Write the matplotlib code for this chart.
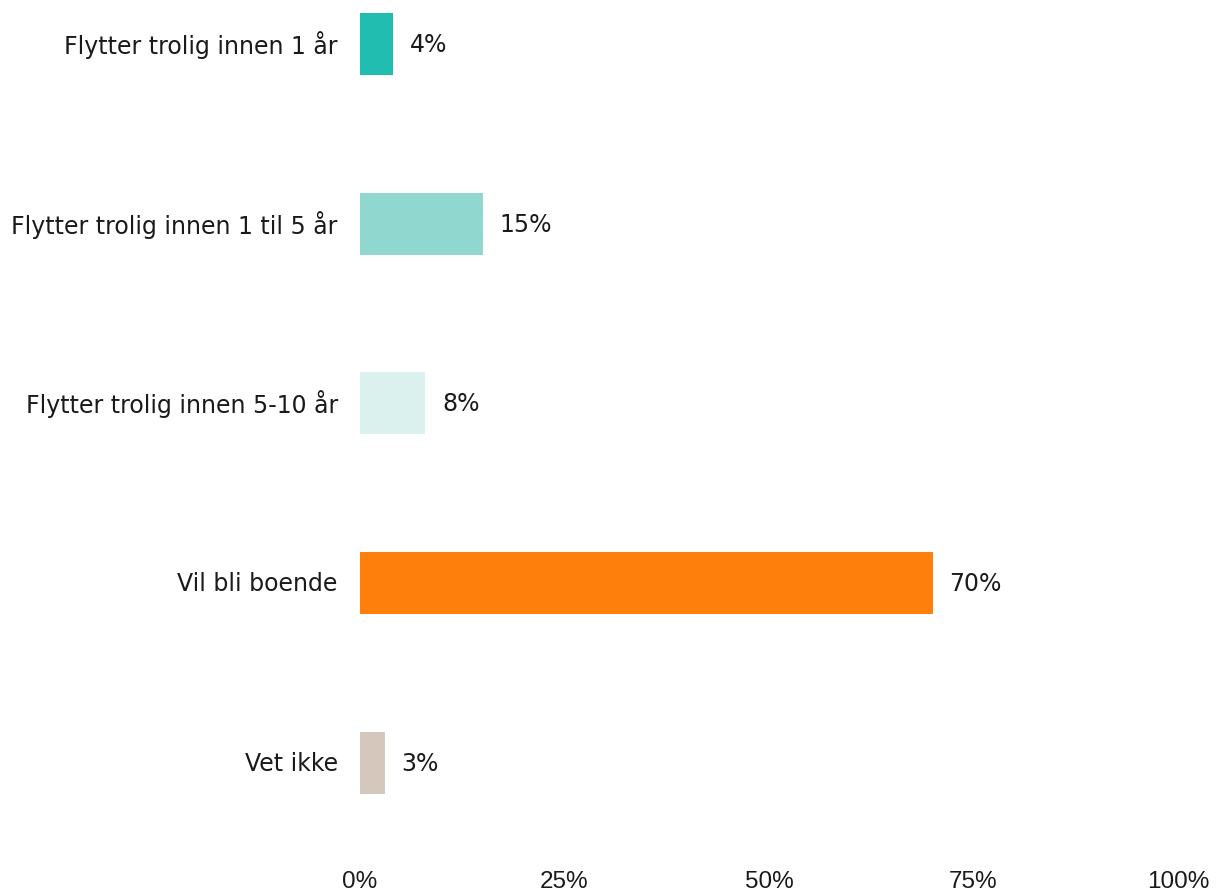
import matplotlib

matplotlib.use("Agg")
import matplotlib.pyplot as plt

categories = [
    "Flytter trolig innen 1 år",
    "Flytter trolig innen 1 til 5 år",
    "Flytter trolig innen 5-10 år",
    "Vil bli boende",
    "Vet ikke",
]
shares = [4, 15, 8, 70, 3]
colors = ["#21bdb1", "#90d8cf", "#dbf1ee", "#ff7f0d", "#d4c8bd"]
xticks = [0, 25, 50, 75, 100]

W, H, DPI = 1218, 895, 100
fig = plt.figure(figsize=(W / DPI, H / DPI), dpi=DPI)

# axes spans the plotting area in pixel terms, y in category slots
left, right, top, bottom = 360, 1178, 0, 860
ax = fig.add_axes([left / W, 1 - bottom / H, (right - left) / W, (bottom - top) / H])
slot = 179.7
first = 45
ax.set_ylim((bottom - first) / slot, (top - first) / slot)
ax.set_xlim(0, 100)

ypos = list(range(len(categories)))
ax.barh(ypos, shares, height=62 / slot, color=colors)
for y, v in zip(ypos, shares):
    ax.annotate(f"{v}%", (v, y), xytext=(12, 0), textcoords="offset points",
                va="center", ha="left", fontsize=17, family="DejaVu Sans",
                color="#1a1a1a")

ax.set_yticks(ypos)
ax.set_yticklabels(categories, fontsize=17, family="DejaVu Sans", color="#1a1a1a",
                   va="center")
ax.set_xticks(xticks)
ax.set_xticklabels([f"{t}%" for t in xticks], fontsize=17.5,
                   family="Liberation Sans", color="#1a1a1a")
ax.tick_params(axis="y", length=0, pad=16)
ax.tick_params(axis="x", length=0, pad=8)
for s in ax.spines.values():
    s.set_visible(False)

fig.savefig("out.png", dpi=DPI)
